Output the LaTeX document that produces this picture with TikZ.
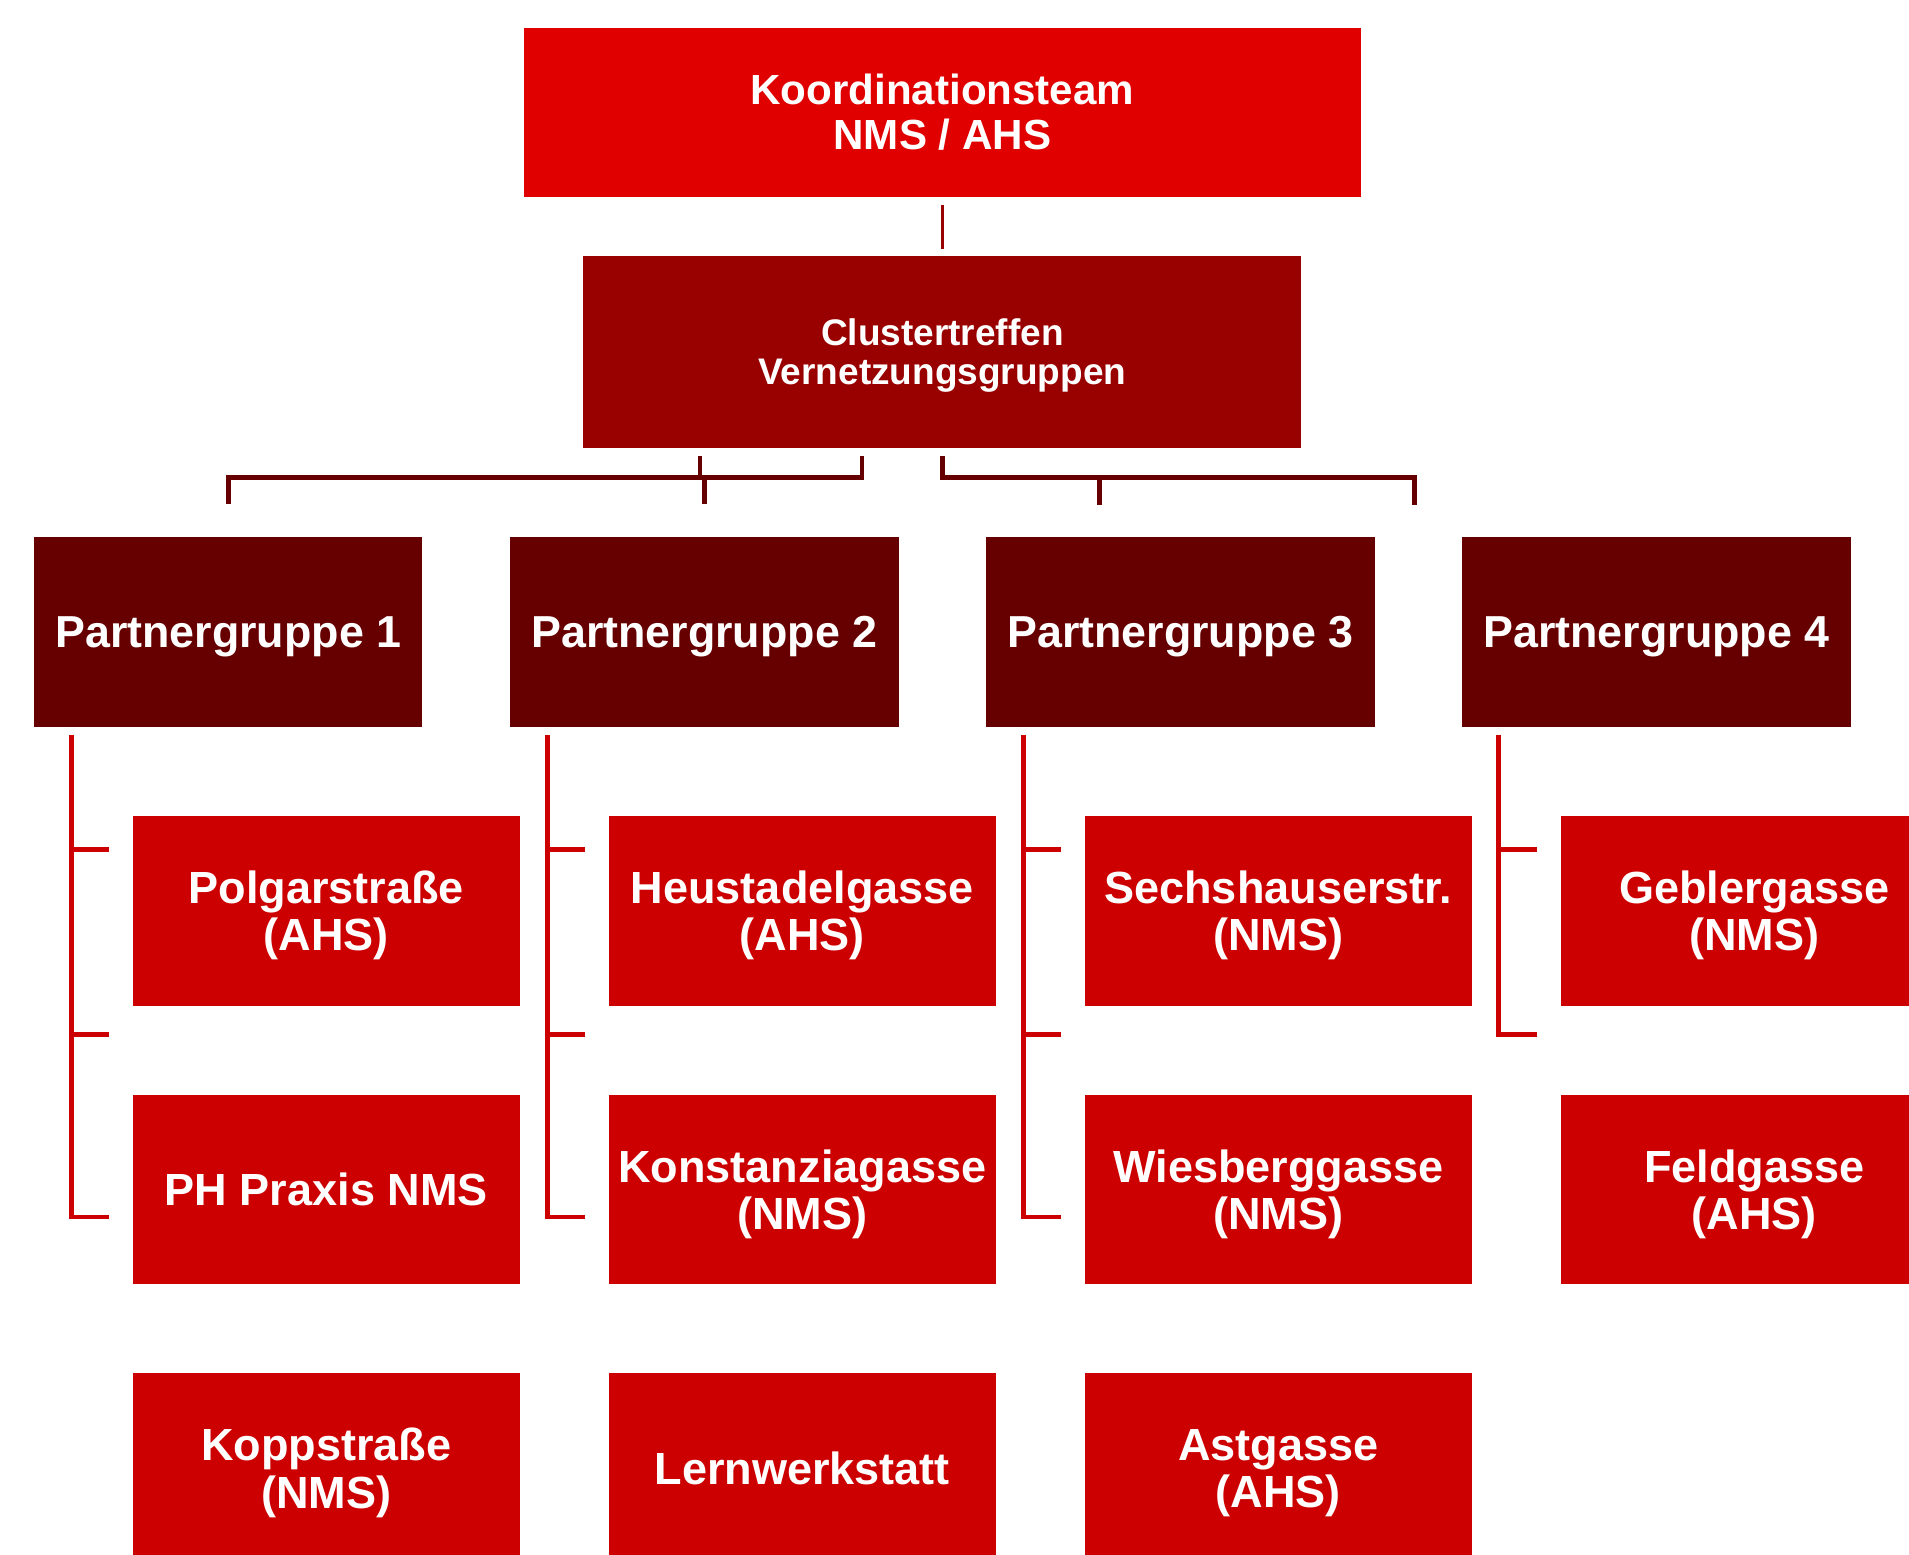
\documentclass[tikz,border=0pt]{standalone}
\usepackage{fontspec}
\setmainfont{Liberation Sans}
\usetikzlibrary{calc}
\definecolor{cTop}{HTML}{E00000}
\definecolor{cClu}{HTML}{990000}
\definecolor{cPG}{HTML}{660000}
\definecolor{cCh}{HTML}{CC0000}
\begin{document}
\begin{tikzpicture}[x=0.5pt,y=-0.5pt,
  boxbase/.style={draw=none, inner sep=0pt, text=white, align=center},
  topbox/.style={boxbase, fill=cTop, minimum width=344pt, minimum height=69.5pt,
     font=\bfseries\fontsize{17.3}{18.5}\selectfont},
  clubox/.style={boxbase, fill=cClu, minimum width=295pt, minimum height=79pt,
     text depth=0pt, font=\bfseries\fontsize{15.2}{16}\selectfont},
  pgbox/.style={boxbase, fill=cPG, minimum width=159.5pt, minimum height=78pt,
     text depth=0pt, font=\bfseries\fontsize{18.4}{19.5}\selectfont},
  chbox/.style={boxbase, fill=cCh, minimum width=159pt, minimum height=78pt,
     text depth=0pt, font=\bfseries\fontsize{18.5}{19.5}\selectfont},
  brk/.style={draw=cCh, line width=2pt, line join=miter},
  dk/.style={draw=cPG, line width=2pt, line join=miter},
  tk/.style={draw=cClu, line width=1.5pt}
]
\useasboundingbox (0,0) rectangle (1568,1277);
\clip (0,0) rectangle (1568,1277);

\node[topbox] (k) at (774,92.5) {Koordinationsteam\\NMS / AHS};
\node[clubox] (cl) at (774,289) {Clustertreffen\\Vernetzungsgruppen};

\node[pgbox] (p1) at (187.5,519) {Partnergruppe 1};
\node[pgbox] (p2) at (578.5,519) {Partnergruppe 2};
\node[pgbox] (p3) at (969.5,519) {Partnergruppe 3};
\node[pgbox] (p4) at (1360.5,519) {Partnergruppe 4};

\node[chbox] (c11) at (268,748) {Polgarstraße\\(AHS)};
\node[chbox] (c12) at (268,977) {PH Praxis NMS};
\node[chbox] (c13) at (268,1206) {Koppstraße\\(NMS)};
\node[chbox] (c21) at (659,748) {Heustadelgasse\\(AHS)};
\node[chbox] (c22) at (659,977) {Konstanziagasse\\(NMS)};
\node[chbox] (c23) at (659,1206) {Lernwerkstatt};
\node[chbox] (c31) at (1050,748) {Sechshauserstr.\\(NMS)};
\node[chbox] (c32) at (1050,977) {Wiesberggasse\\(NMS)};
\node[chbox] (c33) at (1050,1206) {Astgasse\\(AHS)};
\node[chbox] (c41) at (1441,748) {Geblergasse\\(NMS)};
\node[chbox] (c42) at (1441,977) {Feldgasse\\(AHS)};

% top connector
\draw[tk] ($(k.south)+(0,6)$) -- ($(cl.north)+(0,-5)$);

% cluster connectors
\coordinate (la) at ($(cl.south)+(-66,6)$);
\coordinate (lb) at ($(cl.south)+(-66,24)$);
\draw[dk] (la) -- (lb) -- (p1.north |- lb) -- ($(p1.north)+(0,-27)$);
\draw[dk] ($(cl.south)+(-199,6)$) -- ($(cl.south)+(-199,25)$);
\draw[dk] ($(p2.north)+(0,-49)$) -- ($(p2.north)+(0,-27)$);
\coordinate (ra) at ($(cl.south)+(0,6)$);
\coordinate (rb) at ($(cl.south)+(0,24)$);
\coordinate (rc) at ($(cl.south)+(388,24)$);
\draw[dk] (ra) -- (rb) -- (rc) -- ($(rc)+(0,22)$);
\draw[dk] ($(cl.south)+(129,24)$) -- ($(cl.south)+(129,46)$);

% brackets
\foreach \g in {1,2,3} {
  \coordinate (t\g) at ($(p\g.south west)+(31,6)$);
  \coordinate (e\g a) at ($(c\g1.north west)+(-19,28)$);
  \coordinate (e\g b) at ($(c\g1.south west)+(-19,23)$);
  \coordinate (e\g c) at ($(c\g2.north west)+(-19,101)$);
  \draw[brk] (t\g) -- (t\g |- e\g c) -- (e\g c);
  \draw[brk] (t\g |- e\g a) -- (e\g a);
  \draw[brk] (t\g |- e\g b) -- (e\g b);
}
\coordinate (t4) at ($(p4.south west)+(30,6)$);
\coordinate (e4a) at ($(c41.north west)+(-19,28)$);
\coordinate (e4b) at ($(c41.south west)+(-19,23)$);
\draw[brk] (t4) -- (t4 |- e4b) -- (e4b);
\draw[brk] (t4 |- e4a) -- (e4a);
\end{tikzpicture}
\end{document}
